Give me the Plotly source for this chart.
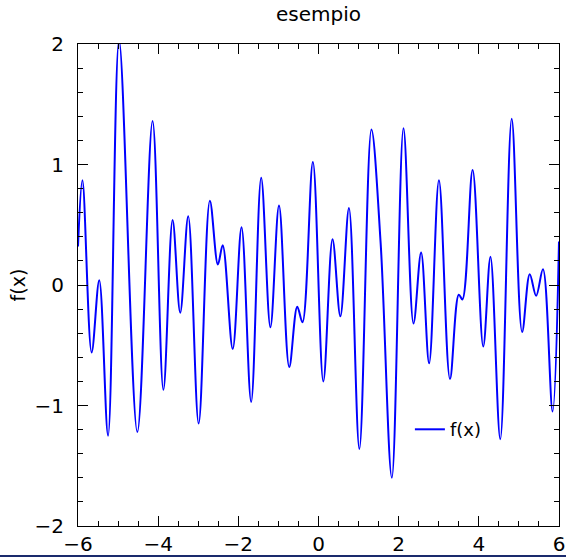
import plotly.graph_objects as go

# Points (extrema and a few intermediate points)
x_vals = [-6.00, -5.89, -5.66, -5.47, -5.25, -4.975, -4.52, -4.14, -3.87, -3.64,
          -3.45, -3.25, -2.99, -2.71, -2.51, -2.39, -2.14, -1.92, -1.68, -1.43,
          -1.20, -0.985, -0.73, -0.53, -0.40, -0.14, 0.12, 0.35, 0.545, 0.76,
          1.02, 1.32, 1.55, 1.83, 2.12, 2.37, 2.56, 2.76, 3.005, 3.28,
          3.50, 3.59, 3.845, 4.11, 4.29, 4.535, 4.82, 5.08, 5.27, 5.43,
          5.60, 5.84, 6.00]
y_vals = [0.32, 0.87, -0.56, 0.04, -1.25, 2.03, -1.22, 1.36, -0.87, 0.54,
          -0.23, 0.57, -1.15, 0.70, 0.17, 0.33, -0.53, 0.48, -0.97, 0.89,
          -0.35, 0.66, -0.68, -0.18, -0.31, 1.02, -0.80, 0.38, -0.26, 0.64,
          -1.36, 1.29, 0.35, -1.60, 1.30, -0.32, 0.27, -0.65, 0.87, -0.78,
          -0.08, -0.12, 0.955, -0.51, 0.235, -1.28, 1.38, -0.39, 0.09, -0.09,
          0.13, -1.05, 0.36]

x_ticks = [-6, -4, -2, 0, 2, 4, 6]
y_ticks = [-2, -1, 0, 1, 2]
x_range = [-6, 6]
y_range = [-2, 2]

fig = go.Figure()
fig.add_trace(go.Scatter(
    x=x_vals, y=y_vals, mode="lines", name="f(x)",
    line=dict(color="#0000ff", width=2, shape="spline", smoothing=1.0),
))

tick_common = dict(
    showgrid=False, zeroline=False, showline=True, linecolor="black", linewidth=1,
    mirror="ticks", ticks="inside", ticklen=10, tickwidth=1,
    tickcolor="black", tickfont=dict(size=20, color="black"), automargin=False,
    ticklabeloverflow="allow",
)

fig.update_xaxes(range=x_range, tickvals=x_ticks,
                 minor=dict(dtick=0.5, ticks="inside", ticklen=5, tickwidth=1,
                            tickcolor="black", showgrid=False),
                 **tick_common)
fig.update_yaxes(range=y_range, tickvals=y_ticks, ticklabelstandoff=9,
                 title=dict(text="f(x)", font=dict(size=19, color="black"), standoff=3),
                 minor=dict(dtick=0.2, ticks="inside", ticklen=5, tickwidth=1,
                            tickcolor="black", showgrid=False),
                 **tick_common)

fig.update_layout(
    width=566, height=557,
    margin=dict(l=78, r=7, t=44, b=31),
    paper_bgcolor="white", plot_bgcolor="white",
    font=dict(family="DejaVu Sans", color="black"),
    title=dict(text="esempio", xref="paper", x=0.5, xanchor="center",
               y=0.974, yanchor="middle",
               font=dict(size=20, color="black"), automargin=False),
    showlegend=True,
    legend=dict(x=0.69, y=0.2, xanchor="left", yanchor="middle",
                bgcolor="rgba(0,0,0,0)", borderwidth=0, font=dict(size=18, color="black"),
                itemwidth=30),
    shapes=[dict(type="line", xref="paper", yref="paper", x0=-0.5, x1=1.5,
                 y0=-0.062, y1=-0.062, line=dict(color="#1a2a6c", width=2))],
)

fig.write_html("out.html", config={"displayModeBar": False},
               post_script="document.body.style.margin='0';")
